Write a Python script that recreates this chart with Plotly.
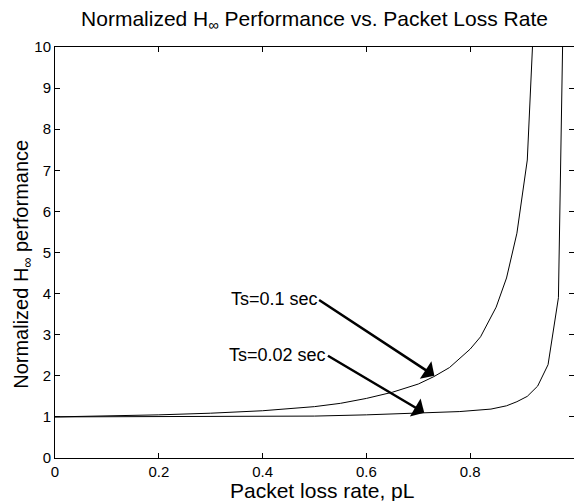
import plotly.graph_objects as go

# Ts = 0.1 sec curve
pl_01 = [0.0, 0.1, 0.2, 0.3, 0.4, 0.5, 0.55, 0.6, 0.65, 0.7, 0.73, 0.76, 0.78, 0.8, 0.82, 0.83, 0.85, 0.87, 0.89, 0.91, 0.92]
perf_01 = [1.0, 1.02, 1.05, 1.09, 1.15, 1.25, 1.33, 1.45, 1.6, 1.8, 1.98, 2.2, 2.42, 2.65, 2.95, 3.19, 3.67, 4.38, 5.47, 7.25, 10.0]

# Ts = 0.02 sec curve
pl_002 = [0.0, 0.2, 0.4, 0.5, 0.6, 0.7, 0.78, 0.84, 0.87, 0.89, 0.91, 0.93, 0.95, 0.97, 0.978]
perf_002 = [1.0, 1.003, 1.01, 1.02, 1.05, 1.09, 1.13, 1.19, 1.27, 1.37, 1.5, 1.75, 2.27, 3.9, 10.0]

x_ticks = [0, 0.2, 0.4, 0.6, 0.8, 1]
x_ticktext = ["0", "0.2", "0.4", "0.6", "0.8", "1"]
y_ticks = list(range(0, 11))

labels = ["Ts=0.1 sec", "Ts=0.02 sec"]
arrow_tail_x = [0.506, 0.523]
arrow_tail_y = [3.87, 2.51]
arrow_head_x = [0.731, 0.7115]
arrow_head_y = [2.0, 1.10]

FONT = "Liberation Sans, Arial, Helvetica, sans-serif"

fig = go.Figure()
fig.add_trace(go.Scatter(x=pl_01, y=perf_01, mode="lines",
                         line=dict(color="black", width=1), showlegend=False))
fig.add_trace(go.Scatter(x=pl_002, y=perf_002, mode="lines",
                         line=dict(color="black", width=1), showlegend=False))

for lab, tx, ty, hx, hy in zip(labels, arrow_tail_x, arrow_tail_y, arrow_head_x, arrow_head_y):
    fig.add_annotation(x=hx, y=hy, ax=tx, ay=ty, xref="x", yref="y", axref="x", ayref="y",
                       text="", showarrow=True, arrowhead=1, arrowsize=1.4, arrowwidth=2.5,
                       arrowcolor="black", standoff=0, startstandoff=0)
    fig.add_annotation(x=tx, y=ty, xref="x", yref="y", text=lab, showarrow=False,
                       xanchor="right", yanchor="middle", xshift=2,
                       font=dict(family=FONT, size=18, color="black"))

# axis titles as annotations for precise placement
fig.add_annotation(x=0.515, y=-0.079, xref="paper", yref="paper",
                   text="Packet loss rate, pL", showarrow=False,
                   xanchor="center", yanchor="middle",
                   font=dict(family=FONT, size=21, color="black"))
fig.add_annotation(x=-0.064, y=0.472, xref="paper", yref="paper",
                   text="Normalized H<sub>∞</sub> performance", showarrow=False,
                   textangle=-90, xanchor="center", yanchor="middle",
                   font=dict(family=FONT, size=20, color="black"))

fig.update_layout(
    width=574, height=501,
    margin=dict(l=55, r=0, t=47, b=43),
    paper_bgcolor="white", plot_bgcolor="white",
    font=dict(family=FONT, color="black", size=14),
    title=dict(text="Normalized H<sub>∞</sub> Performance vs. Packet Loss Rate",
               x=0.5, xref="paper", y=0.963, yref="container", yanchor="middle",
               font=dict(family=FONT, size=21, color="black")),
)
fig.update_xaxes(range=[0, 1], tickvals=x_ticks, ticktext=x_ticktext,
                 ticks="inside", ticklen=5, tickcolor="black",
                 showline=True, linecolor="black", linewidth=1, mirror="ticks",
                 showgrid=False, zeroline=False,
                 tickfont=dict(family=FONT, size=15, color="black"))
fig.update_yaxes(range=[0, 10], tickvals=y_ticks,
                 ticks="inside", ticklen=5, tickcolor="black",
                 showline=True, linecolor="black", linewidth=1, mirror="ticks",
                 showgrid=False, zeroline=False,
                 tickfont=dict(family=FONT, size=15, color="black"))

fig.write_html("out.html")
